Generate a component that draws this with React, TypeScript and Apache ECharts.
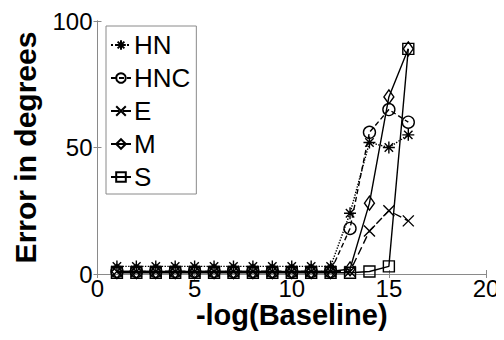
import React, { useEffect, useRef } from "react";
import * as echarts from "echarts";

// -log(Baseline) values shared by every method
const baselines = [1, 2, 3, 4, 5, 6, 7, 8, 9, 10, 11, 12, 13, 14, 15, 16];

// Error in degrees per method
const hnErr = [3, 3, 3, 3, 3, 3, 3, 3, 3, 3, 3, 3, 24, 52, 50, 55];
const hncErr = [1, 1, 1, 1, 1, 1, 1, 1, 1, 1, 1, 1, 18, 56, 65, 60];
const eErr = [1, 1, 1, 1, 1, 1, 1, 1, 1, 1, 1, 1, 1, 17, 25, 21];
const mErr = [1, 1, 1, 1, 1, 1, 1, 1, 1, 1, 1, 1, 2, 28, 70, 89];
const sErr = [0.5, 0.5, 0.5, 0.5, 0.5, 0.5, 0.5, 0.5, 0.5, 0.5, 0.5, 0.5, 0.5, 1, 3, 89];

const xTicks = [0, 5, 10, 15, 20];
const yTicks = [0, 50, 100];

const ASTERISK = "path://M5,0L5,10M0,5L10,5M1.5,1.5L8.5,8.5M8.5,1.5L1.5,8.5";
const CROSS = "path://M0,0L10,10M10,0L0,10";

const FONT = "'Liberation Sans', Arial, sans-serif";
const AXIS_GRAY = "#8a8a8a";

function pairs(ys: number[]) {
  return baselines.map((x, i) => [x, ys[i]]);
}

function makeSeries(
  name: string,
  ys: number[],
  symbol: string,
  symbolSize: number | number[],
  lineType: any
) {
  return {
    name,
    type: "line",
    data: pairs(ys),
    symbol,
    symbolSize,
    showAllSymbol: true,
    lineStyle: { color: "#000", width: 1.4, type: lineType },
    itemStyle: { color: "transparent", borderColor: "#000", borderWidth: 1.4 },
    emphasis: { disabled: true },
  };
}

export default function App() {
  const ref = useRef<HTMLDivElement>(null);

  useEffect(() => {
    if (!ref.current) return;
    const chart = echarts.init(ref.current, undefined, { renderer: "svg" });

    const hiddenAxis = {
      type: "value",
      min: 0,
      axisLine: { show: true, lineStyle: { color: AXIS_GRAY, width: 1 } },
      axisTick: { show: true, inside: true, length: 4, lineStyle: { color: AXIS_GRAY } },
      axisLabel: { show: false },
      splitLine: { show: false },
    };

    chart.setOption({
      animation: false,
      backgroundColor: "#fff",
      textStyle: { fontFamily: FONT },
      grid: { left: 97.5, right: 18, top: 21, bottom: 66 },
      legend: {
        orient: "vertical",
        left: 106,
        top: 26,
        padding: [6, 6, 4, 4],
        itemGap: 7,
        itemWidth: 20,
        itemHeight: 12,
        backgroundColor: "#fff",
        borderColor: AXIS_GRAY,
        borderWidth: 1,
        borderRadius: 0,
        textStyle: {
          fontFamily: FONT,
          fontSize: 26,
          lineHeight: 26,
          color: "#000",
          padding: [0, 0, 0, -2],
        },
        data: ["HN", "HNC", "E", "M", "S"],
      },
      xAxis: [
        {
          type: "value",
          min: 0,
          max: 20,
          interval: 5,
          name: "-log(Baseline)",
          nameLocation: "middle",
          nameGap: 30,
          nameMoveOverlap: false,
          nameTextStyle: {
            fontFamily: FONT,
            fontSize: 29,
            lineHeight: 22,
            fontWeight: "bold",
            color: "#000",
          },
          axisLine: { show: true, lineStyle: { color: AXIS_GRAY, width: 1 } },
          axisTick: { show: true, inside: true, length: 4, lineStyle: { color: AXIS_GRAY } },
          axisLabel: {
            fontFamily: FONT,
            fontSize: 24,
            lineHeight: 22,
            color: "#000",
            margin: 3,
            formatter: (v: number) => (xTicks.includes(v) ? String(v) : ""),
          },
          splitLine: { show: false },
        },
        { ...hiddenAxis, position: "top", max: 20, interval: 5 },
      ],
      yAxis: [
        {
          type: "value",
          min: 0,
          max: 100,
          interval: 50,
          name: "Error in degrees",
          nameLocation: "middle",
          nameGap: 57,
          nameMoveOverlap: false,
          nameTextStyle: {
            fontFamily: FONT,
            fontSize: 30,
            lineHeight: 30,
            fontWeight: "bold",
            color: "#000",
          },
          axisLine: { show: true, lineStyle: { color: AXIS_GRAY, width: 1 } },
          axisTick: { show: true, inside: true, length: 4, lineStyle: { color: AXIS_GRAY } },
          axisLabel: {
            fontFamily: FONT,
            fontSize: 24,
            color: "#000",
            margin: 5,
            formatter: (v: number) => (yTicks.includes(v) ? String(v) : ""),
          },
          splitLine: { show: false },
        },
        { ...hiddenAxis, position: "right", max: 100, interval: 50 },
      ],
      series: [
        makeSeries("HN", hnErr, ASTERISK, 12, "dotted"),
        makeSeries("HNC", hncErr, "circle", 12, [5, 3]),
        makeSeries("E", eErr, CROSS, 11, [8, 4]),
        makeSeries("M", mErr, "diamond", [10, 14], "solid"),
        makeSeries("S", sErr, "rect", 11, "solid"),
      ],
    });

    return () => chart.dispose();
  }, []);

  return <div ref={ref} style={{ width: 504, height: 340, margin: -8 }} />;
}
